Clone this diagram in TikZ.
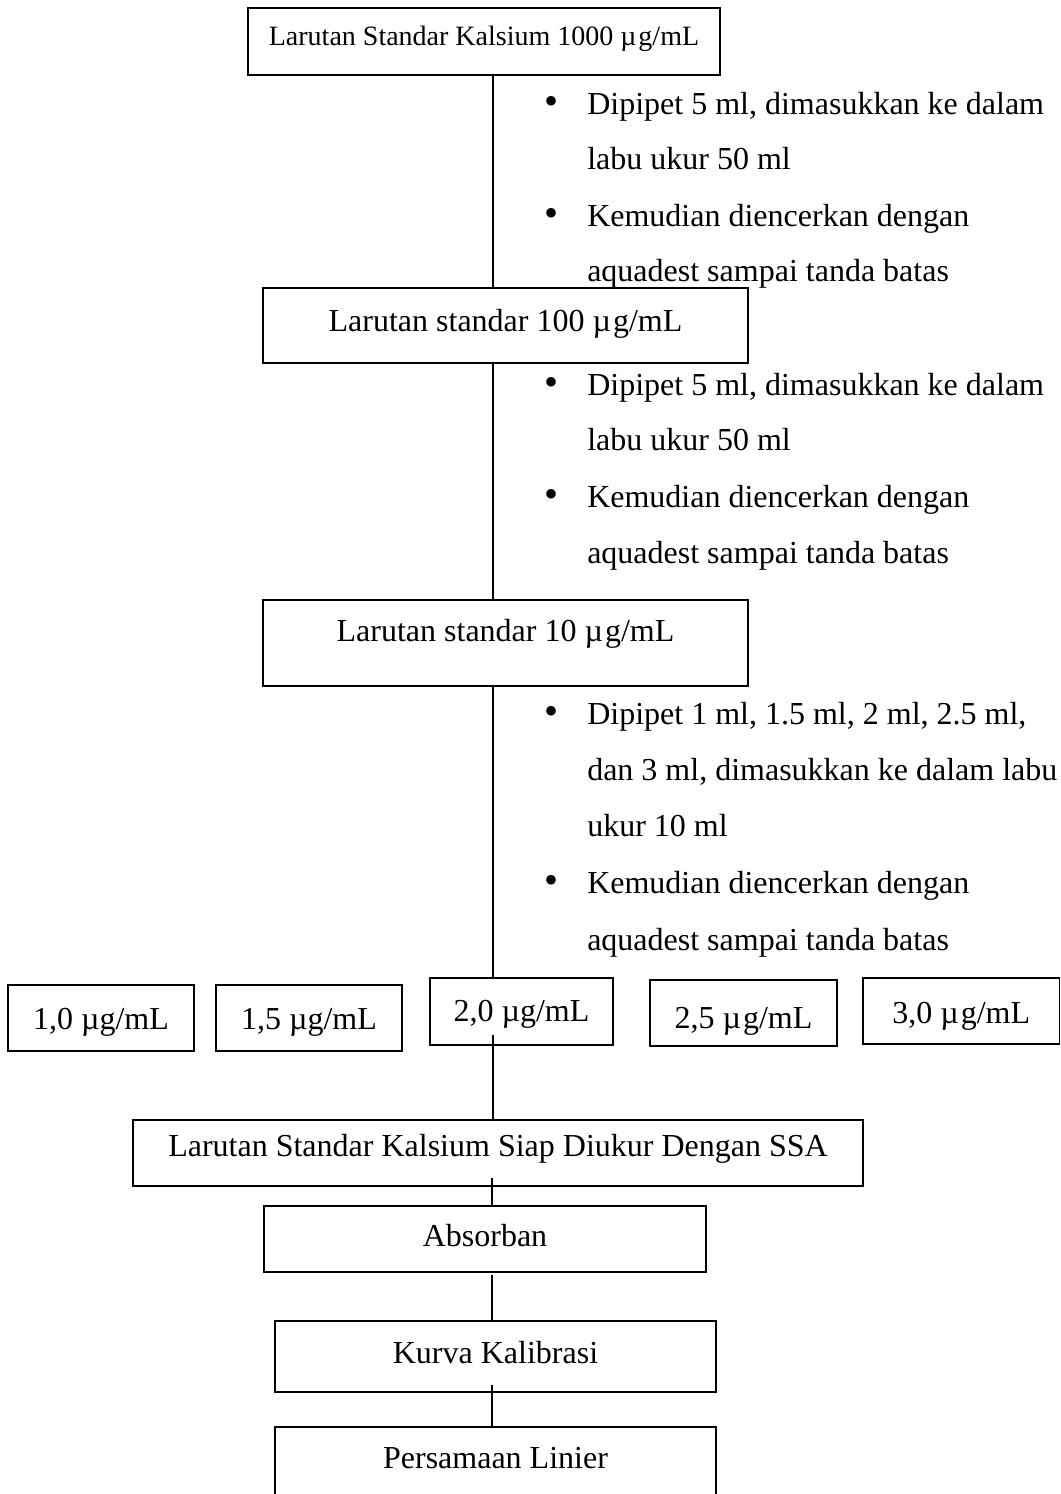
\documentclass[tikz,border=0pt]{standalone}
\usepackage{fontspec}
\setmainfont{Liberation Serif}
\tikzset{
  boxst/.style={draw, line width=0.8pt, inner sep=0pt, outer sep=0pt},
  txt/.style={inner sep=0pt, anchor=base},
  ltxt/.style={inner sep=0pt, anchor=base west},
  conn/.style={line width=0.8pt},
}
% \bx{name}{x0}{y0}{x1}{y1}{baseline}{text}
\newcommand{\bx}[7]{%
  \pgfmathsetmacro{\bw}{(#4-#2)*0.75}%
  \pgfmathsetmacro{\bh}{(#5-#3)*0.75}%
  \node[boxst, minimum width=\bw pt, minimum height=\bh pt] (#1) at ({(#2+#4)/2},{(#3+#5)/2}) {};
  \node[txt] (#1-t) at ({(#2+#4)/2},#6) {#7};
}
\newcommand{\bul}[3]{%
  \node[txt] (#1-b) at (551,#2) {\fontsize{30}{30}\selectfont •};
  \node[ltxt] (#1) at (587,#2) {#3};
}
\newcommand{\cont}[3]{%
  \node[ltxt] (#1) at (587,#2) {#3};
}
\newcommand{\mug}{µ\kern1.5pt g}
\begin{document}
\begin{tikzpicture}[x=0.75pt,y=-0.75pt,font=\fontsize{24}{28}\selectfont]
\useasboundingbox (0,0) rectangle (1060,1494);
\coordinate (sp) at (493,0);
\coordinate (sq) at (492,0);
\bx{b1}{248}{8}{720}{75}{46}{\fontsize{21}{24}\selectfont Larutan Standar Kalsium 1000 \mug/mL}
\bx{b2}{263}{288}{748}{363}{331}{Larutan standar 100 \mug/mL}
\bx{b3}{263}{600}{748}{686}{641}{Larutan standar 10 \mug/mL}
\bx{c1}{8}{985}{194}{1051}{1029}{1,0 µg/mL}
\bx{c2}{216}{985}{402}{1051}{1029}{1,5 µg/mL}
\bx{c3}{430}{978}{613}{1045}{1021}{2,0 µg/mL}
\bx{c4}{650}{980}{837}{1046}{1028}{2,5 \mug/mL}
\bx{c5}{863}{978}{1059.5}{1044}{1023}{3,0 \mug/mL}
\bx{ssa}{133}{1120}{863}{1186}{1156}{Larutan Standar Kalsium Siap Diukur Dengan SSA}
\bx{abs}{264}{1206}{706}{1272}{1246}{Absorban}
\bx{kur}{275}{1321}{716}{1392}{1363}{Kurva Kalibrasi}
\bx{per}{275}{1427}{716}{1510}{1468}{Persamaan Linier}

\bul{g1a}{115}{Dipipet 5 ml, dimasukkan ke dalam}
\cont{g1b}{170}{labu ukur 50 ml}
\bul{g1c}{227}{Kemudian diencerkan dengan}
\cont{g1d}{282}{aquadest sampai tanda batas}

\bul{g2a}{395}{Dipipet 5 ml, dimasukkan ke dalam}
\cont{g2b}{450}{labu ukur 50 ml}
\bul{g2c}{507}{Kemudian diencerkan dengan}
\cont{g2d}{563}{aquadest sampai tanda batas}

\bul{g3a}{724}{Dipipet 1 ml, 1.5 ml, 2 ml, 2.5 ml,}
\cont{g3b}{780}{dan 3 ml, dimasukkan ke dalam labu}
\cont{g3c}{836}{ukur 10 ml}
\bul{g3d}{893}{Kemudian diencerkan dengan}
\cont{g3e}{950}{aquadest sampai tanda batas}

\draw[conn] (b1.south -| sp) -- (b2.north -| sp);
\draw[conn] (b2.south -| sp) -- (b3.north -| sp);
\draw[conn] (b3.south -| sp) -- (c3.north -| sp);
\draw[conn] ([yshift=7.5pt]c3.south -| sp) -- (ssa.north -| sp);
\draw[conn] ([yshift=6pt]ssa.south -| sq) -- (abs.north -| sq);
\draw[conn] ([yshift=-2pt]abs.south -| sq) -- (kur.north -| sq);
\draw[conn] ([yshift=5pt]kur.south -| sq) -- (per.north -| sq);
\end{tikzpicture}
\end{document}
